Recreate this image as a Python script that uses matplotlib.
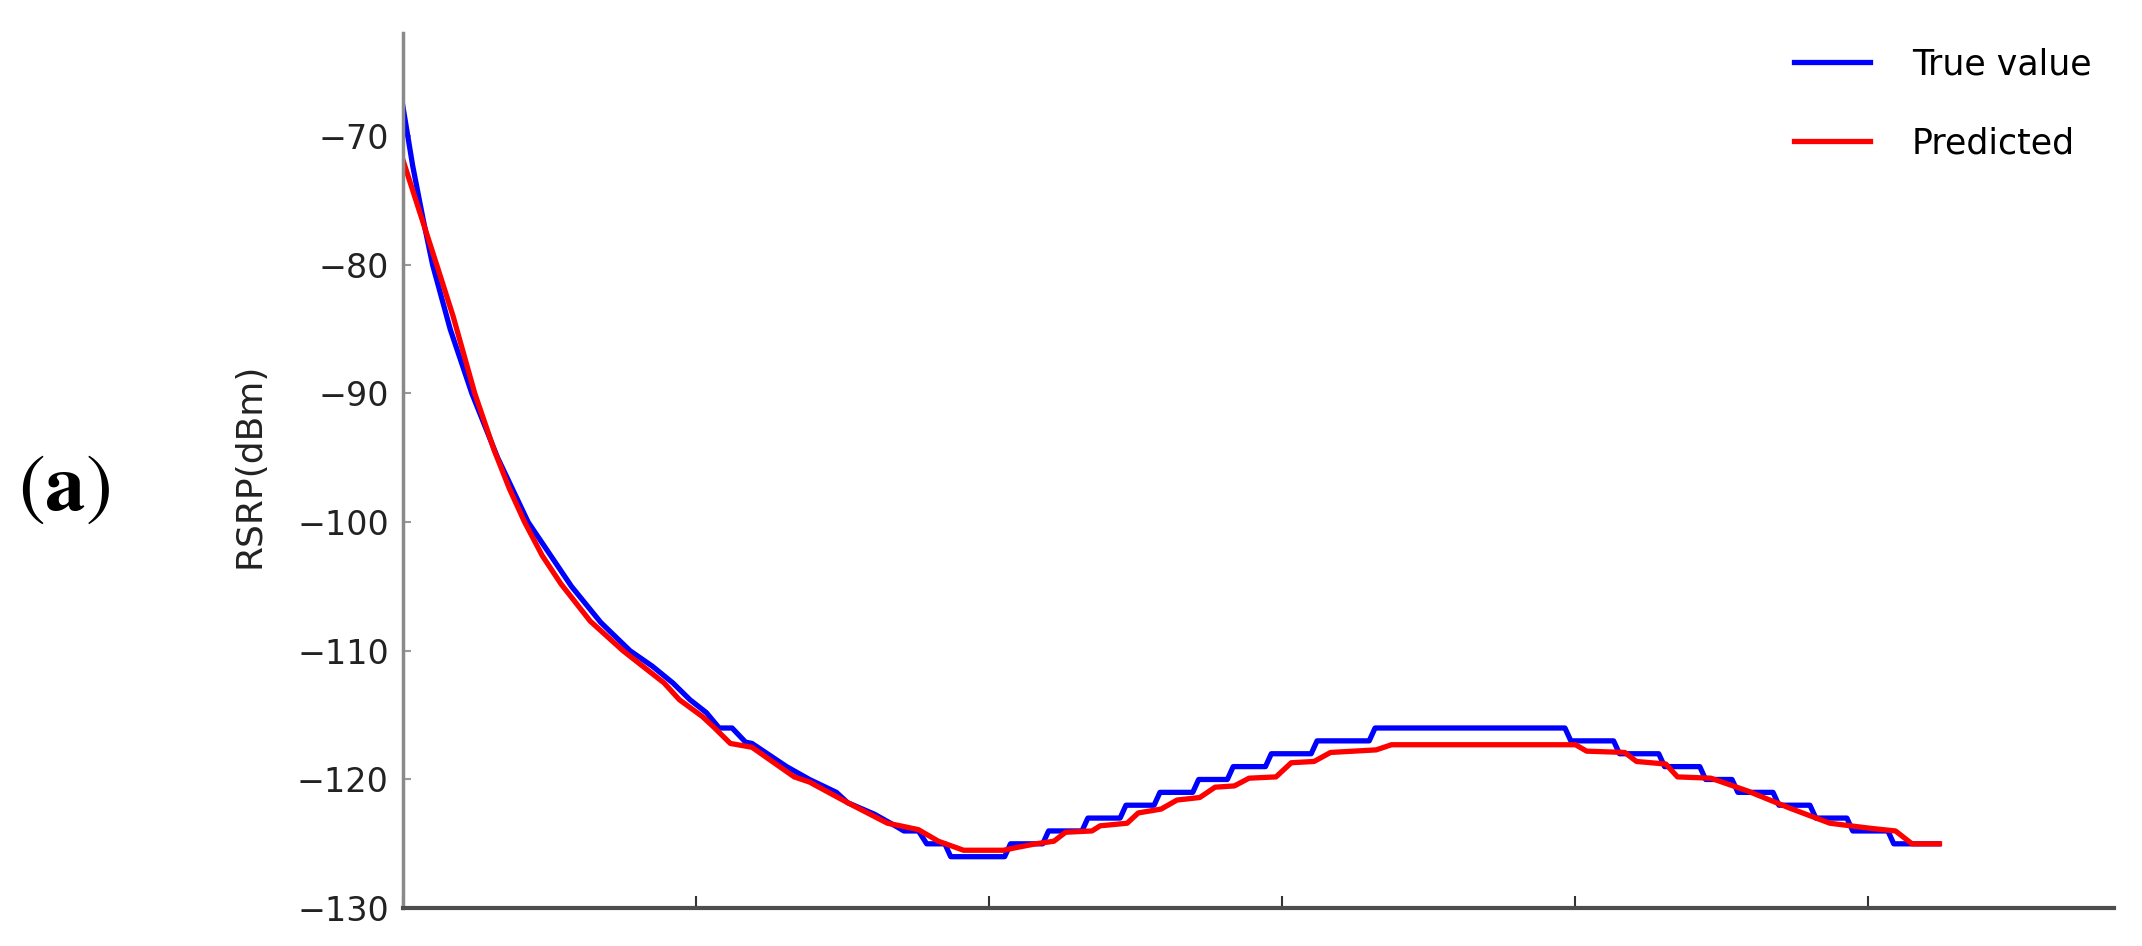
import numpy as np
import matplotlib.pyplot as plt

# True value (blue): x = sample index, y = RSRP in dBm
true_x = [0, 1.7, 3.5, 5.1, 8.1, 11.8, 16.2, 21.4, 28.8, 33.8, 38.8,
          42.6, 46.1, 49.0, 51.8, 54.0, 56.2, 58.5, 59.6, 65.5, 69.4, 74.0,
          75.9, 80.5, 84.4, 85.5, 88.0, 89.4, 92.5, 93.5,
          102.7, 103.7, 109.2, 110.2, 115.9, 116.9, 122.4, 123.4, 128.2, 129.2,
          134.8, 135.8, 140.7, 141.7, 147.2, 148.2, 155.0, 156.0, 164.9, 165.9,
          198.3, 199.3, 206.6, 207.6, 214.3, 215.3, 221.3, 222.3, 226.8, 227.8,
          233.8, 234.8, 240.1, 241.1, 246.4, 247.4, 253.4, 254.4, 262.0]
true_y = [-67.6, -72.3, -76.5, -80.0, -85.0, -90.0, -95.0, -100.0, -105.0,
          -107.8, -110.0,
          -111.2, -112.5, -113.8, -114.8, -116.0, -116.0, -117.1, -117.2, -119.0,
          -120.0, -121.0, -121.8, -122.7, -123.7, -124.0, -124.0, -125.0, -125.0,
          -126.0,
          -126.0, -125.0, -125.0, -124.0, -124.0, -123.0, -123.0, -122.0, -122.0,
          -121.0, -121.0, -120.0, -120.0, -119.0, -119.0, -118.0, -118.0, -117.0,
          -117.0, -116.0,
          -116.0, -117.0, -117.0, -118.0, -118.0, -119.0, -119.0, -120.0, -120.0,
          -121.0, -121.0, -122.0, -122.0, -123.0, -123.0, -124.0, -124.0, -125.0,
          -125.0]

# Predicted (red)
pred_x = [0, 2.4, 5.8, 8.6, 12.3, 15.6, 18.2, 20.8, 23.8, 27.0, 32.0, 37.6,
          44.6, 47.2, 51.1, 53.0, 55.9, 59.6, 66.8, 69.4, 75.9, 82.7, 84.9, 88.0,
          91.4, 95.7, 102.5, 104.6, 108.0, 111.1, 113.1, 117.6, 119.0, 123.6,
          125.5, 129.4, 132.1, 136.0, 138.6, 141.9, 144.4, 149.0, 151.6, 155.5,
          158.3, 166.1, 168.7, 200.1, 202.0, 208.5, 210.5, 215.5, 217.5, 223.2,
          229.5, 236.5, 243.5, 250.5, 254.7, 257.5, 262.2]
pred_y = [-71.8, -75.2, -80.0, -84.0, -90.0, -94.4, -97.4, -100.0, -102.6,
          -104.8, -107.7, -110.0,
          -112.5, -113.8, -115.1, -115.9, -117.2, -117.5, -119.8, -120.2, -121.8,
          -123.4, -123.6, -123.9, -124.8, -125.5, -125.5, -125.3, -125.0, -124.8,
          -124.1, -124.0, -123.6, -123.4, -122.6, -122.3, -121.6, -121.4, -120.6,
          -120.5, -119.9, -119.8, -118.7, -118.6, -117.9, -117.7, -117.3, -117.3,
          -117.8, -117.9, -118.6, -118.8, -119.8, -119.9, -120.9, -122.2, -123.4,
          -123.8, -124.0, -125.0, -125.0]

y_ticks = [-130, -120, -110, -100, -90, -80, -70]
x_ticks = [0, 50, 100, 150, 200, 250]

fig = plt.figure(figsize=(21.42, 9.46), dpi=100)
ax = fig.add_axes([0.188, 0.040, 0.799, 0.925])

ax.plot(true_x, true_y, color='#0000ff', lw=3.8, label='True value')
ax.plot(pred_x, pred_y, color='#ff0000', lw=3.8, label='Predicted')

ax.set_xlim(0, 292)
ax.set_ylim(-130, -62)
ax.set_yticks(y_ticks)
ax.set_xticks(x_ticks)
ax.set_xticklabels([''] * len(x_ticks))

ax.spines['top'].set_visible(False)
ax.spines['right'].set_visible(False)
ax.spines['left'].set_color('#8a8a8a')
ax.spines['left'].set_linewidth(2.5)
ax.spines['bottom'].set_color('#4d4d4d')
ax.spines['bottom'].set_linewidth(3)

ax.tick_params(axis='y', direction='in', length=6, width=1.5, color='#999999',
               labelsize=24, labelcolor='#222222', pad=10)
ax.tick_params(axis='x', direction='in', length=9, width=1.5, color='#333333')

ax.set_ylabel('RSRP(dBm)', fontsize=26, color='#222222')
ax.yaxis.set_label_coords(-0.0795, 0.506)

ax.legend(loc='upper right', bbox_to_anchor=(0.9765, 0.95),
          bbox_transform=fig.transFigure, frameon=False, fontsize=25,
          handlelength=2.2, handletextpad=1.2, labelspacing=1.3,
          borderpad=0, borderaxespad=0)

plt.rcParams['mathtext.fontset'] = 'stix'
fig.text(0.030, 0.484, r'$(\mathbf{a})$', fontsize=58, ha='center', va='center')

fig.savefig('out.png', dpi=100)
